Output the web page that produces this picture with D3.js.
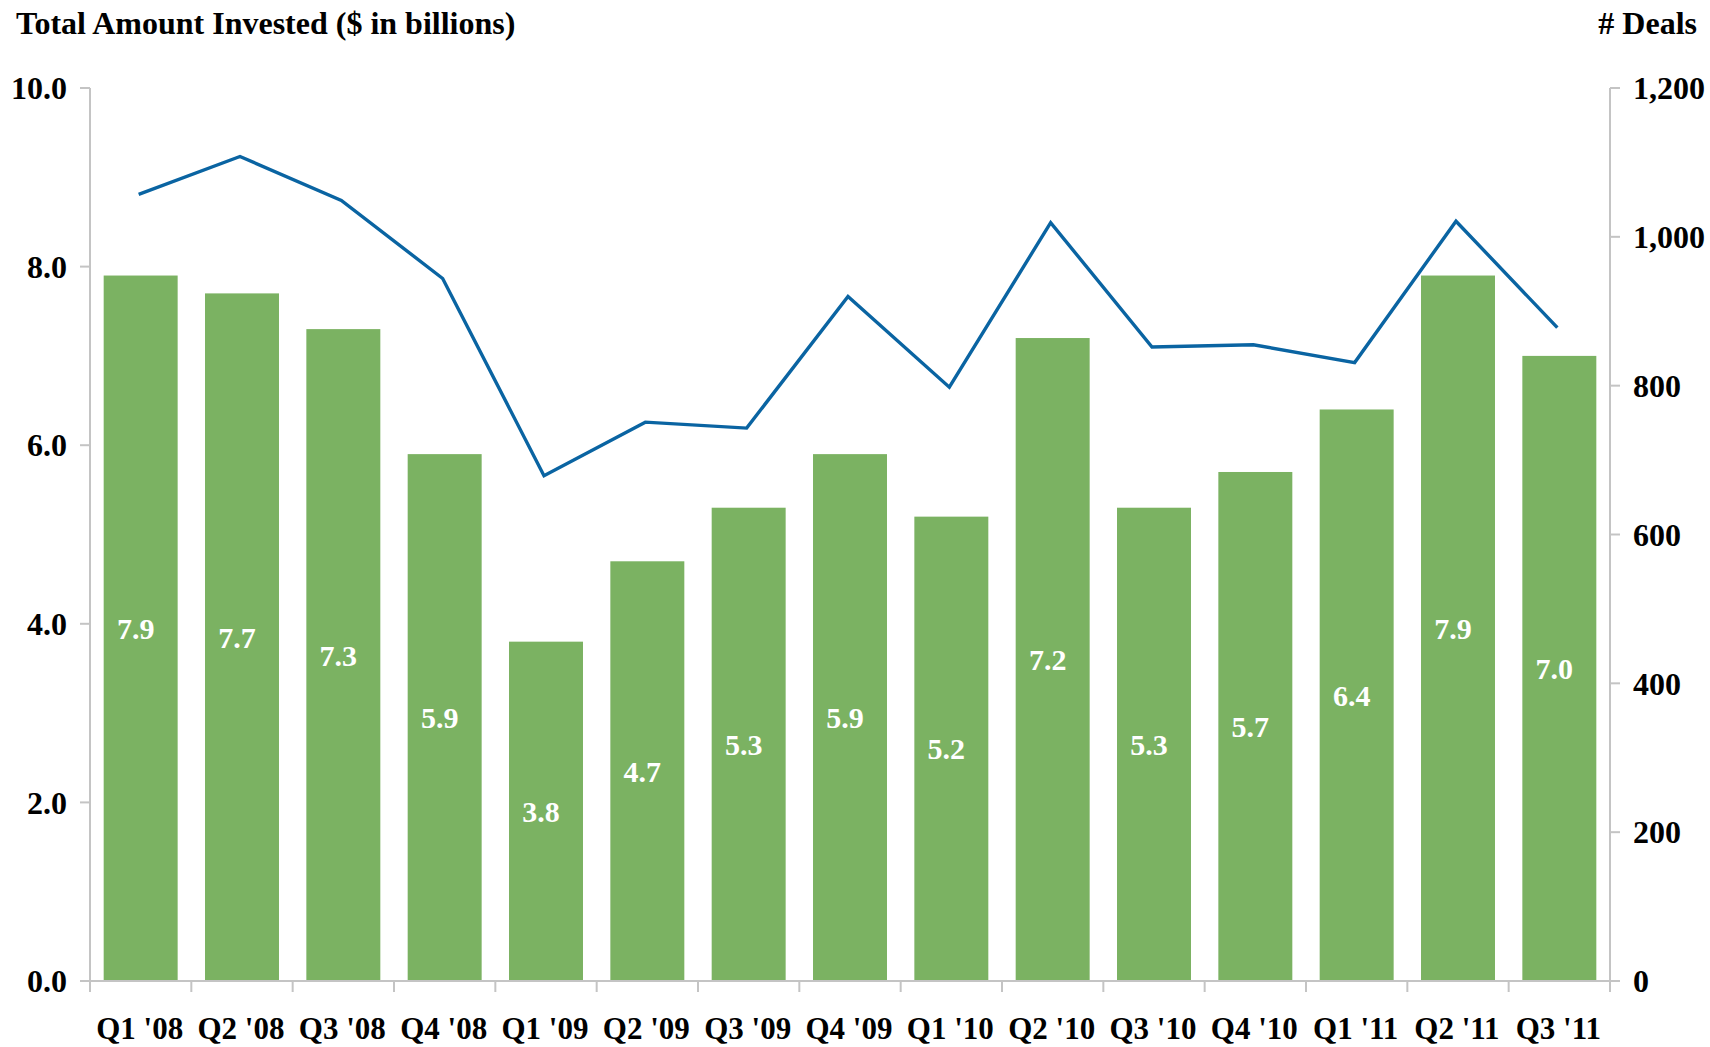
<!DOCTYPE html>
<html>
<head>
<meta charset="utf-8">
<script src="https://cdn.jsdelivr.net/npm/d3@7"></script>
<style>
  body { margin: 0; background: #fff; }
  text { font-family: "Liberation Serif", "Times New Roman", serif; font-weight: bold; }
</style>
</head>
<body>
<div id="chart"></div>
<script>
var width = 1710,
    height = 1047;

var quarters = ["Q1 '08", "Q2 '08", "Q3 '08", "Q4 '08", "Q1 '09", "Q2 '09", "Q3 '09", "Q4 '09",
    "Q1 '10", "Q2 '10", "Q3 '10", "Q4 '10", "Q1 '11", "Q2 '11", "Q3 '11"];
var invested = [7.9, 7.7, 7.3, 5.9, 3.8, 4.7, 5.3, 5.9, 5.2, 7.2, 5.3, 5.7, 6.4, 7.9, 7.0];
var deals = [1057, 1108, 1049, 944, 679, 751, 743, 920, 798, 1019, 852, 855, 831, 1021, 878];
var leftTicks = [0, 2, 4, 6, 8, 10];
var rightTicks = [0, 200, 400, 600, 800, 1000, 1200];

var plotLeft = 90, plotRight = 1610, plotTop = 88, plotBottom = 981;

var svg = d3.select("#chart")
    .append("svg")
    .attr("width", width)
    .attr("height", height);

var x = d3.scaleBand()
    .domain(quarters)
    .range([plotLeft, plotRight])
    .paddingInner(0.27)
    .paddingOuter(0.135);

var xEdge = d3.scaleLinear()
    .domain([0, quarters.length])
    .range([plotLeft, plotRight]);

var yLeft = d3.scaleLinear().domain([0, 10]).range([plotBottom, plotTop]);
var yRight = d3.scaleLinear().domain([0, 1200]).range([plotBottom, plotTop]);

var axisColor = "#c4c4c4";

// bars
svg.selectAll("rect.bar")
    .data(invested)
    .enter().append("rect")
    .attr("class", "bar")
    .attr("x", function(d, i) { return x(quarters[i]); })
    .attr("y", function(d) { return yLeft(d); })
    .attr("width", x.bandwidth())
    .attr("height", function(d) { return yLeft(0) - yLeft(d); })
    .style("fill", "#7bb262");

// bar labels (sit a little left of centre, as in the original)
svg.selectAll("text.barlabel")
    .data(invested)
    .enter().append("text")
    .attr("class", "barlabel")
    .attr("x", function(d, i) { return x(quarters[i]) + x.bandwidth() / 2 - 5; })
    .attr("y", function(d) { return (yLeft(d) + yLeft(0)) / 2; })
    .attr("dy", "0.35em")
    .attr("text-anchor", "middle")
    .style("font-size", "30px")
    .style("fill", "#fff")
    .text(function(d) { return d3.format(".1f")(d); });

// left axis
var gl = svg.append("g").attr("transform", "translate(" + plotLeft + ",0)");
gl.append("line").attr("y1", plotTop).attr("y2", plotBottom).attr("stroke", axisColor).attr("stroke-width", 2);
gl.selectAll("line.tick").data(leftTicks).enter().append("line")
    .attr("x1", -10).attr("x2", 0)
    .attr("y1", function(d) { return yLeft(d); })
    .attr("y2", function(d) { return yLeft(d); })
    .attr("stroke", axisColor).attr("stroke-width", 2);
gl.selectAll("text").data(leftTicks).enter().append("text")
    .attr("x", -23)
    .attr("y", function(d) { return yLeft(d); })
    .attr("dy", "0.35em")
    .attr("text-anchor", "end")
    .style("font-size", "32px")
    .text(function(d) { return d3.format(".1f")(d); });

// right axis
var gr = svg.append("g").attr("transform", "translate(" + plotRight + ",0)");
gr.append("line").attr("y1", plotTop).attr("y2", plotBottom).attr("stroke", axisColor).attr("stroke-width", 2);
gr.selectAll("line.tick").data(rightTicks).enter().append("line")
    .attr("x1", 0).attr("x2", 10)
    .attr("y1", function(d) { return yRight(d); })
    .attr("y2", function(d) { return yRight(d); })
    .attr("stroke", axisColor).attr("stroke-width", 2);
gr.selectAll("text").data(rightTicks).enter().append("text")
    .attr("x", 23)
    .attr("y", function(d) { return yRight(d); })
    .attr("dy", "0.35em")
    .style("font-size", "32px")
    .text(function(d) { return d3.format(",")(d); });

// bottom axis
var gb = svg.append("g");
gb.append("line").attr("x1", plotLeft - 10).attr("x2", plotRight + 10)
    .attr("y1", plotBottom).attr("y2", plotBottom)
    .attr("stroke", axisColor).attr("stroke-width", 2);
gb.selectAll("line.tick").data(d3.range(quarters.length + 1)).enter().append("line")
    .attr("x1", function(d) { return xEdge(d); })
    .attr("x2", function(d) { return xEdge(d); })
    .attr("y1", plotBottom).attr("y2", plotBottom + 11)
    .attr("stroke", axisColor).attr("stroke-width", 2);
gb.selectAll("text").data(quarters).enter().append("text")
    .attr("x", function(d) { return x(d) + x.bandwidth() / 2 - 1; })
    .attr("y", 1039)
    .attr("text-anchor", "middle")
    .style("font-size", "31px")
    .text(function(d) { return d; });

// deals line
var line = d3.line()
    .x(function(d, i) { return x(quarters[i]) + x.bandwidth() / 2 - 2; })
    .y(function(d) { return yRight(d); });

svg.append("path")
    .datum(deals)
    .attr("d", line)
    .attr("fill", "none")
    .attr("stroke", "#0a64a2")
    .attr("stroke-width", 3.4);

// titles
svg.append("text")
    .attr("x", 16).attr("y", 34)
    .style("font-size", "32px")
    .text("Total Amount Invested ($ in billions)");

svg.append("text")
    .attr("x", 1697).attr("y", 34)
    .attr("text-anchor", "end")
    .style("font-size", "32px")
    .text("# Deals");
</script>
</body>
</html>
